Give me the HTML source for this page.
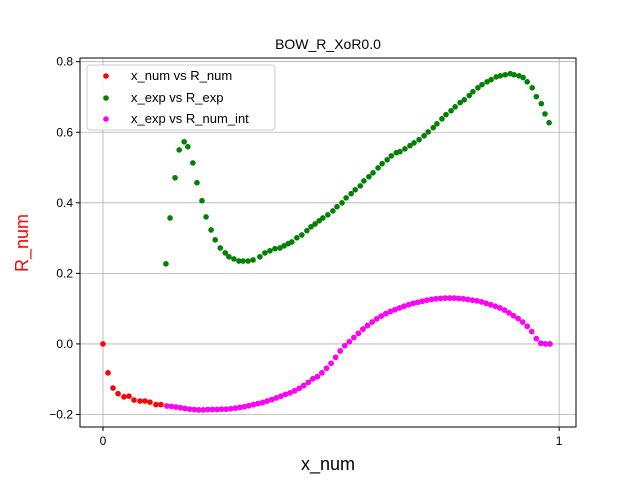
<!DOCTYPE html>
<html><head><meta charset="utf-8"><style>
body{margin:0;background:#fff;}
svg{display:block;font-family:"Liberation Sans","DejaVu Sans",sans-serif;}
</style></head><body>
<svg id="chart" width="640" height="480">
<rect x="0" y="0" width="640" height="480" fill="#fff"/>
<g id="grid"></g>
<g id="marks"></g>
<rect x="80" y="58" width="496" height="369" fill="none" stroke="#000" stroke-width="1"/>
<g id="ticks"></g>
<text x="328" y="49" font-size="14" text-anchor="middle">BOW_R_XoR0.0</text>
<text x="328" y="470" font-size="18" text-anchor="middle">x_num</text>
<text transform="translate(28,243) rotate(-90)" font-size="18" fill="#ff0000" text-anchor="middle">R_num</text>
<g>
<rect x="87" y="65" width="188" height="65" rx="3" fill="#fff" fill-opacity="0.8" stroke="#ccc"/>
<g><circle cx="106" cy="76" r="2.8" fill="#ff0000"/><text x="131" y="80" font-size="13">x_num vs R_num</text></g>
<g><circle cx="106" cy="98" r="2.8" fill="#008000"/><text x="131" y="102" font-size="13">x_exp vs R_exp</text></g>
<g><circle cx="106" cy="119" r="2.8" fill="#ff00ff"/><text x="131" y="123" font-size="13">x_exp vs R_num_int</text></g>
</g>
</svg>
<script>
const xTicks=[0,1];
const xTickLabels=["0","1"];
const yTicks=[-0.2,0,0.2,0.4,0.6,0.8];
const yTickLabels=["−0.2","0.0","0.2","0.4","0.6","0.8"];
const expX=[0.138,0.147,0.158,0.167,0.178,0.186,0.197,0.206,0.217,0.226,0.237,0.246,0.257,0.268,0.276,0.287,0.298,0.307,0.318,0.329,0.344,0.355,0.366,0.377,0.388,0.397,0.406,0.414,0.425,0.436,0.447,0.456,0.465,0.474,0.482,0.493,0.504,0.513,0.524,0.533,0.544,0.553,0.564,0.572,0.583,0.592,0.603,0.612,0.623,0.632,0.643,0.651,0.662,0.673,0.682,0.693,0.704,0.713,0.724,0.732,0.743,0.752,0.763,0.772,0.783,0.792,0.803,0.811,0.822,0.831,0.842,0.851,0.862,0.871,0.882,0.893,0.901,0.912,0.921,0.930,0.941,0.950,0.961,0.969,0.978];
const expY=[0.227,0.357,0.471,0.550,0.573,0.559,0.513,0.457,0.406,0.360,0.323,0.295,0.272,0.258,0.247,0.241,0.235,0.235,0.235,0.238,0.247,0.258,0.264,0.270,0.272,0.278,0.284,0.289,0.301,0.309,0.321,0.332,0.340,0.349,0.357,0.366,0.377,0.389,0.400,0.414,0.426,0.437,0.448,0.462,0.474,0.485,0.499,0.511,0.522,0.533,0.542,0.545,0.553,0.562,0.570,0.579,0.590,0.601,0.613,0.624,0.638,0.650,0.661,0.672,0.684,0.692,0.704,0.715,0.726,0.735,0.743,0.749,0.757,0.760,0.763,0.766,0.763,0.760,0.755,0.743,0.726,0.701,0.681,0.652,0.627];
const intX=[0.14,0.15,0.16,0.17,0.18,0.19,0.20,0.21,0.22,0.23,0.24,0.25,0.26,0.27,0.28,0.29,0.30,0.31,0.32,0.33,0.34,0.35,0.36,0.37,0.38,0.39,0.40,0.41,0.42,0.43,0.44,0.45,0.46,0.47,0.48,0.49,0.50,0.51,0.52,0.53,0.54,0.55,0.56,0.57,0.58,0.59,0.60,0.61,0.62,0.63,0.64,0.65,0.66,0.67,0.68,0.69,0.70,0.71,0.72,0.73,0.74,0.75,0.76,0.77,0.78,0.79,0.80,0.81,0.82,0.83,0.84,0.85,0.86,0.87,0.88,0.89,0.90,0.91,0.92,0.93,0.94,0.95,0.96,0.97,0.98];
const intY=[-0.176,-0.177,-0.179,-0.181,-0.183,-0.185,-0.186,-0.187,-0.187,-0.186,-0.186,-0.186,-0.185,-0.185,-0.184,-0.182,-0.180,-0.178,-0.175,-0.172,-0.169,-0.166,-0.162,-0.158,-0.153,-0.148,-0.143,-0.139,-0.133,-0.126,-0.118,-0.109,-0.099,-0.093,-0.082,-0.069,-0.055,-0.038,-0.020,-0.005,0.006,0.018,0.030,0.042,0.052,0.062,0.071,0.079,0.086,0.092,0.097,0.102,0.107,0.111,0.115,0.118,0.121,0.124,0.126,0.128,0.129,0.130,0.130,0.130,0.129,0.128,0.126,0.124,0.122,0.119,0.115,0.111,0.107,0.102,0.096,0.088,0.080,0.072,0.062,0.050,0.035,0.015,0.002,0.0,0.0];
const numX=[0,0.011,0.022,0.033,0.046,0.057,0.068,0.081,0.092,0.103,0.116,0.127];
const numY=[0,-0.082,-0.125,-0.141,-0.150,-0.148,-0.159,-0.162,-0.162,-0.165,-0.172,-0.172];

const X0=80,X1=576,Y0=427,Y1=58;
const xmin=-0.0504,xmax=1.037,ymin=-0.2355,ymax=0.8105;
function sx(v){return X0+(v-xmin)/(xmax-xmin)*(X1-X0);}
function sy(v){return Y0-(v-ymin)/(ymax-ymin)*(Y0-Y1);}
const NS="http://www.w3.org/2000/svg";
const grid=document.getElementById('grid'),ticks=document.getElementById('ticks'),marks=document.getElementById('marks');
function mk(t,a,p){const e=document.createElementNS(NS,t);for(const k in a)e.setAttribute(k,a[k]);p.appendChild(e);return e;}
xTicks.forEach((v,i)=>{
  const g=mk('line',{x1:sx(v),x2:sx(v),y1:Y1,y2:Y0,stroke:'#b0b0b0','stroke-width':0.8},grid);
  
  
  mk('line',{x1:sx(v),x2:sx(v),y1:Y0,y2:Y0+4,stroke:'#000'},ticks);
  const t=mk('text',{x:sx(v),y:Y0+18,'font-size':12,'text-anchor':'middle'},ticks);
  t.textContent=xTickLabels[i];
  
  
});
yTicks.forEach((v,i)=>{
  const g=mk('line',{x1:X0,x2:X1,y1:sy(v),y2:sy(v),stroke:'#b0b0b0','stroke-width':0.8},grid);
  
  
  mk('line',{x1:X0-4,x2:X0,y1:sy(v),y2:sy(v),stroke:'#000'},ticks);
  const t=mk('text',{x:X0-7,y:sy(v)+4,'font-size':12,'text-anchor':'end'},ticks);
  t.textContent=yTickLabels[i];
  
  
});
function dots(xs,ys,color,name){
  for(let i=0;i<Math.min(xs.length,ys.length);i++){
    const c=mk('circle',{cx:sx(xs[i]),cy:sy(ys[i]),r:2.8,fill:color},marks);
    
    
  }
}
dots(numX.concat(intX),numY.concat(intY),'#ff0000','point-num');
dots(expX,expY,'#008000','point-exp');
dots(intX,intY,'#ff00ff','point-num-int');
</script>
</body></html>
